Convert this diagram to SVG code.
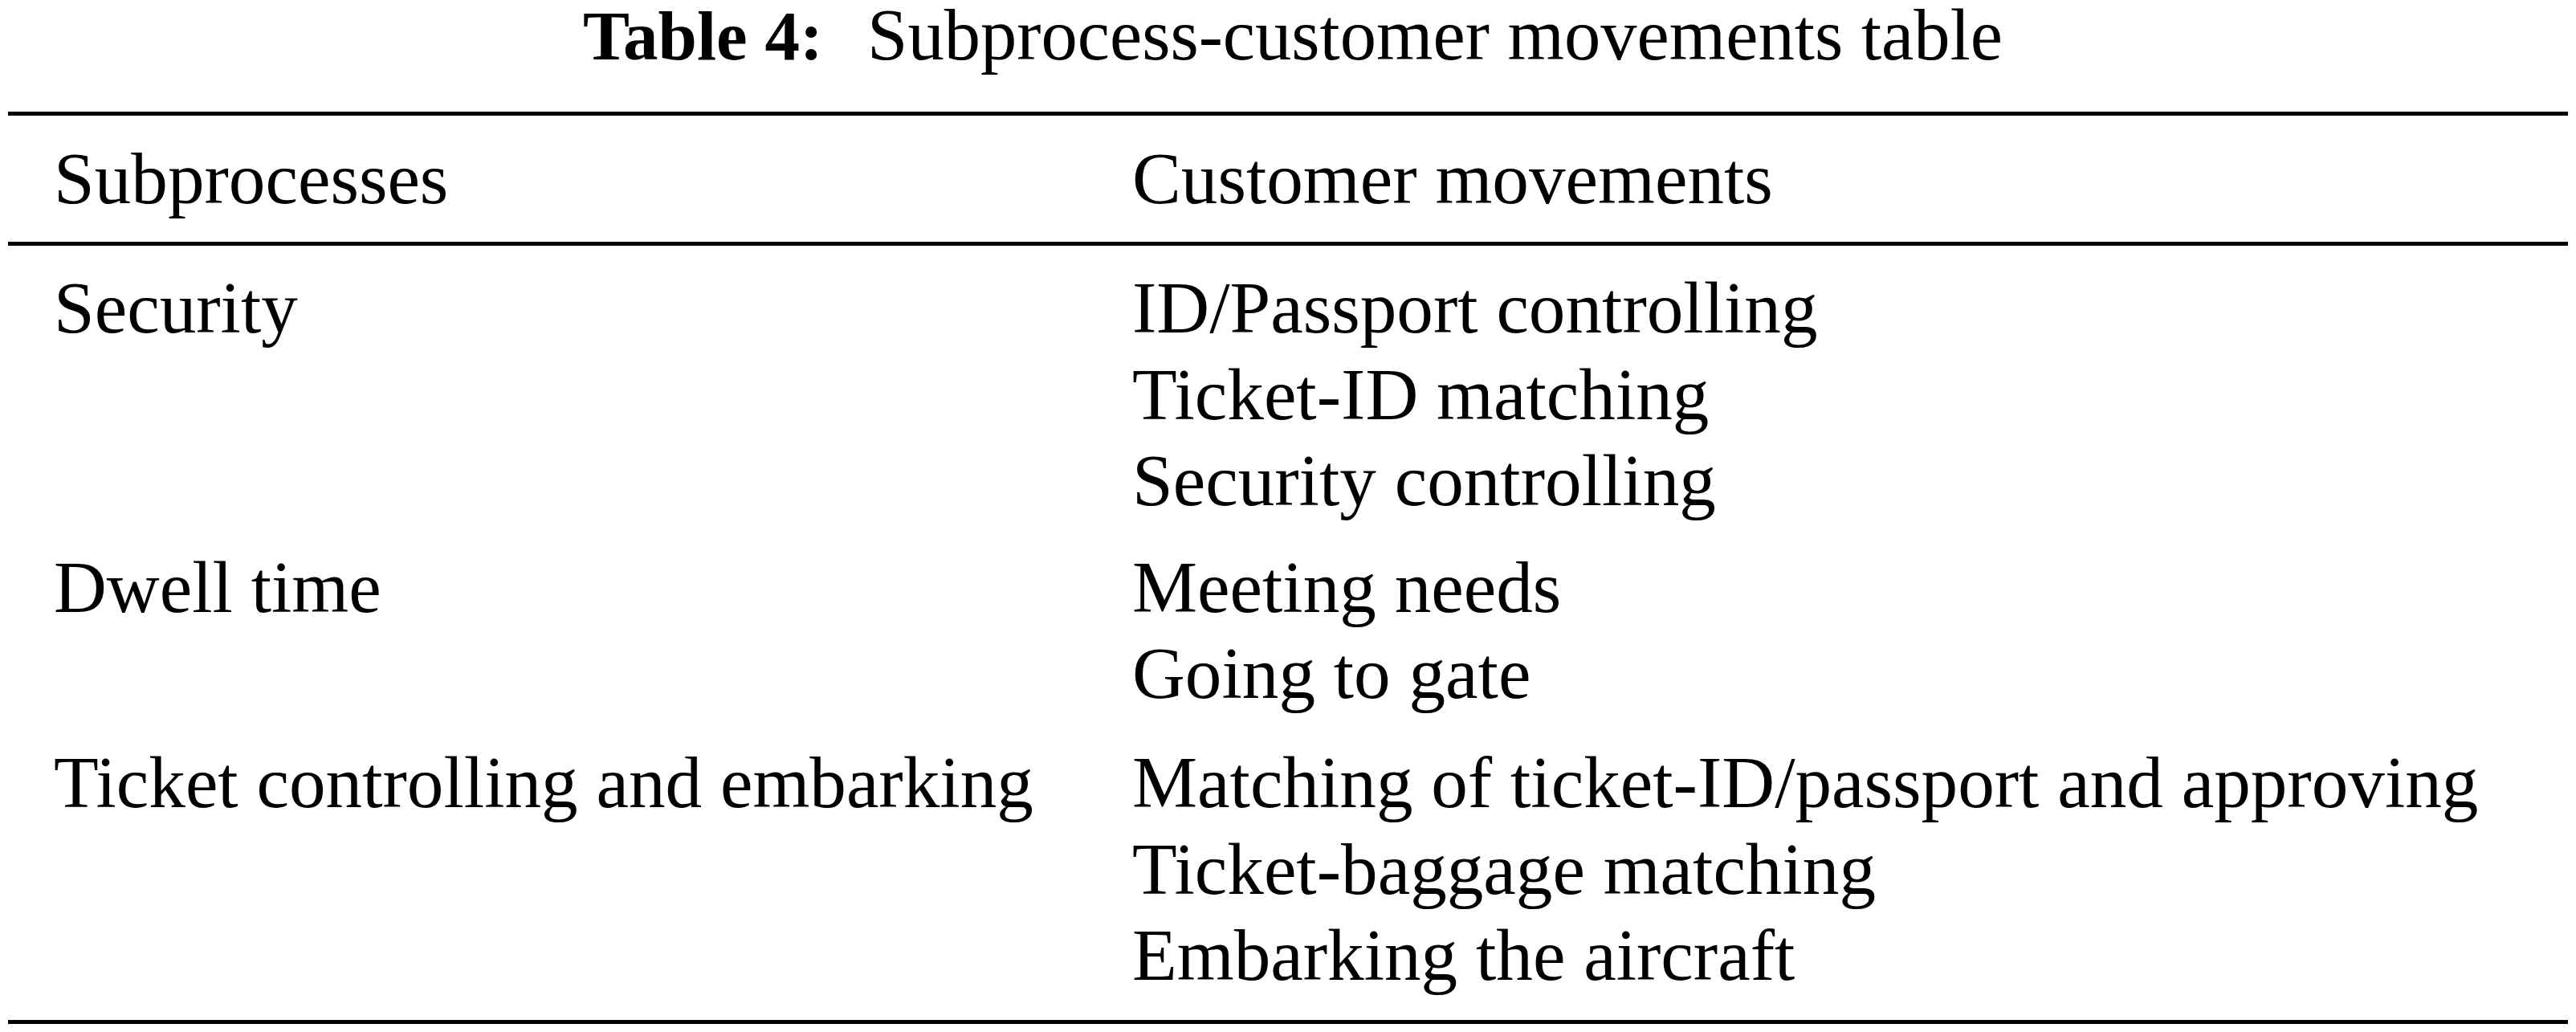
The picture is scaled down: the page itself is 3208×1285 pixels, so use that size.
<svg xmlns="http://www.w3.org/2000/svg" width="3208" height="1285" viewBox="0 0 3208 1285">
<style>
text{font-family:"Liberation Serif","Times New Roman",serif;font-size:91.2px;fill:#000}
.t{font-size:90.6px}
.b{font-weight:bold;font-size:87px}
.rule{stroke:#000;stroke-width:4.8}
</style>
<rect width="3208" height="1285" fill="#fff"/>
<g id="title">
<text class="b" x="726" y="74">Table 4:</text>
<text class="t" x="1080" y="74">Subprocess-customer movements table</text>
</g>
<g id="rules">
<line class="rule" x1="10" y1="141.5" x2="3198" y2="141.5"/>
<line class="rule" x1="10" y1="303.5" x2="3198" y2="303.5"/>
<line class="rule" x1="10" y1="1272.5" x2="3198" y2="1272.5"/>
</g>
<g id="header">
<text x="67" y="253">Subprocesses</text>
<text x="1410" y="253">Customer movements</text>
</g>
<g id="row-security">
<text x="67" y="414">Security</text>
<text x="1410" y="414">ID/Passport controlling</text>
<text x="1410" y="521.5">Ticket-ID matching</text>
<text x="1410" y="629">Security controlling</text>
</g>
<g id="row-dwell">
<text x="67" y="761.5">Dwell time</text>
<text x="1410" y="761.5">Meeting needs</text>
<text x="1410" y="869">Going to gate</text>
</g>
<g id="row-ticket">
<text x="67" y="1005">Ticket controlling and embarking</text>
<text x="1410" y="1005">Matching of ticket-ID/passport and approving</text>
<text x="1410" y="1112.5">Ticket-baggage matching</text>
<text x="1410" y="1220">Embarking the aircraft</text>
</g>
</svg>
